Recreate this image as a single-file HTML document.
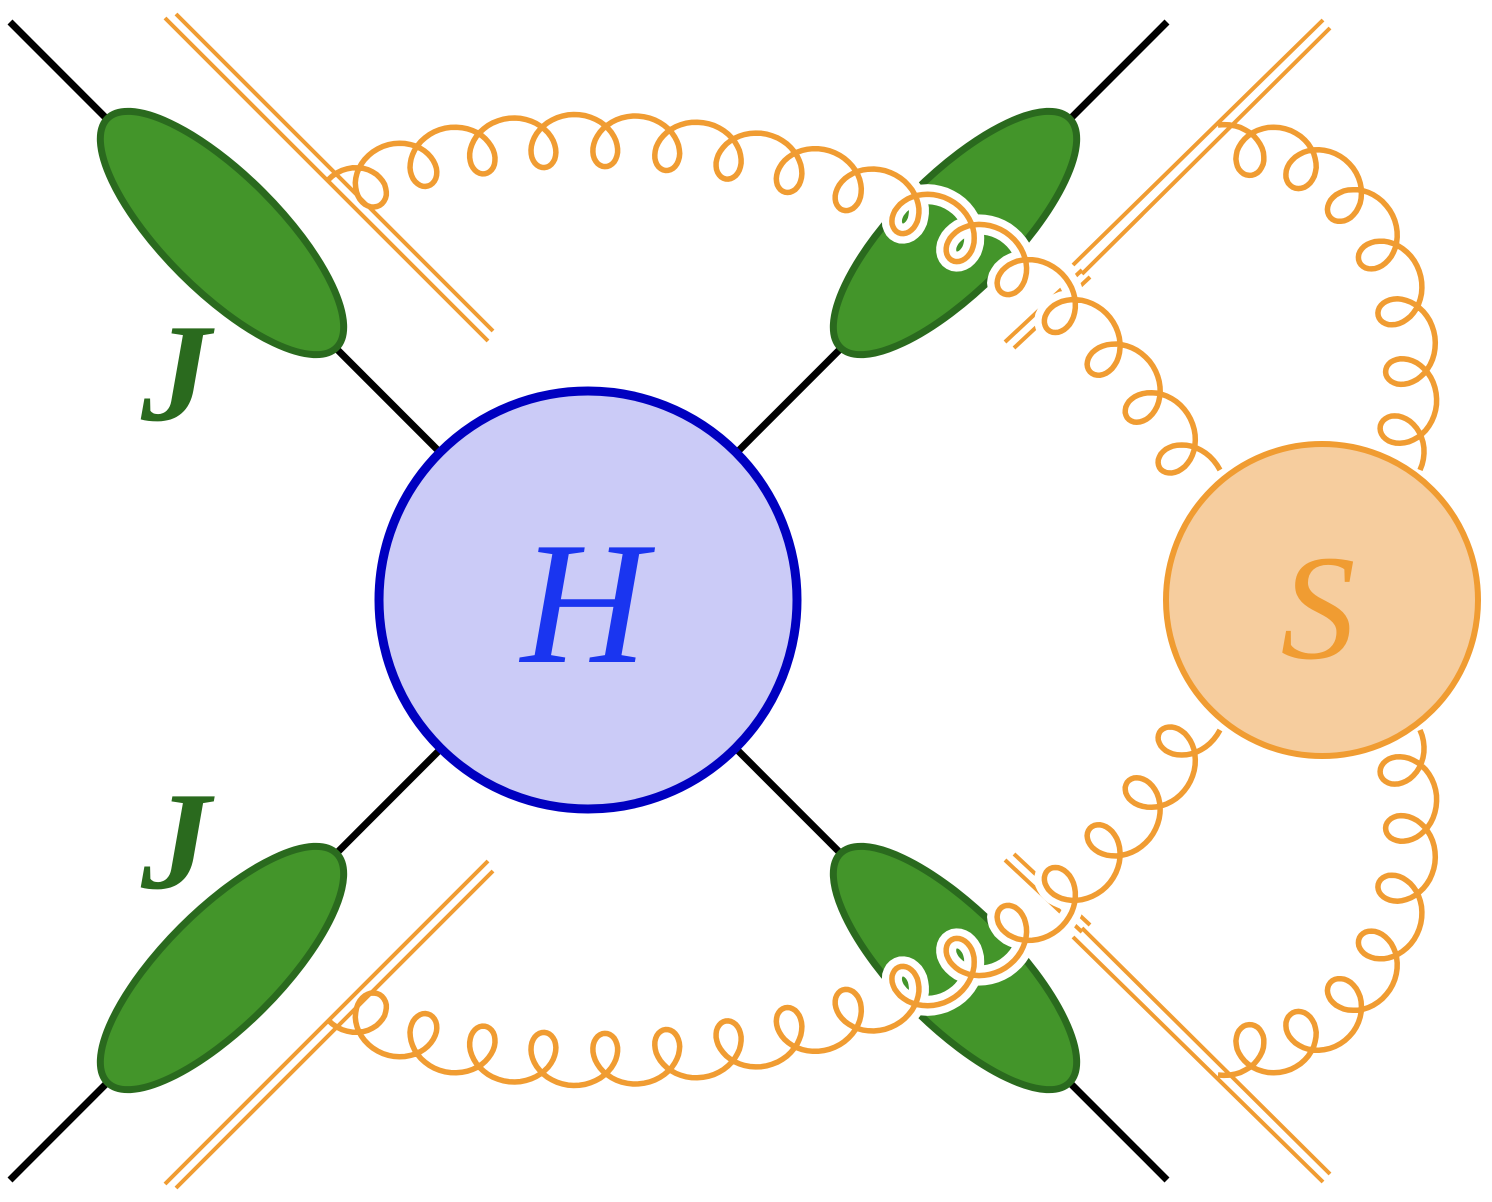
<!DOCTYPE html>
<html><head><meta charset="utf-8"><style>
html,body{margin:0;padding:0;background:#fff;}
svg{display:block;}
</style></head><body>
<svg id="fig" width="1492" height="1202" viewBox="0 0 1492 1202" xmlns="http://www.w3.org/2000/svg">
<g stroke="#000" stroke-width="7">
  <line x1="10" y1="22" x2="1167" y2="1180"/>
  <line x1="1167" y1="22" x2="10" y2="1180"/>
</g>
<g stroke="#f09c32" stroke-width="4" fill="none">
  <path d="M165,18 L488,341 M176,14 L493,331"/>
  <path d="M1073,265 L1323,20 M1082,274 L1330,28 M1005,342 L1082,270 M1014,348 L1090,277"/>
  <path d="M165,1184 L488,861 M176,1188 L493,871"/>
  <path d="M1073,937 L1323,1182 M1082,928 L1330,1174 M1005,860 L1082,932 M1014,854 L1090,925"/>
</g>
<g fill="#43952a" stroke="#2a6a1e" stroke-width="7">
  <ellipse cx="222" cy="233" rx="162" ry="58" transform="rotate(45 222 233)"/>
  <ellipse cx="955" cy="233" rx="162" ry="58" transform="rotate(-45 955 233)"/>
  <ellipse cx="222" cy="968" rx="162" ry="58" transform="rotate(-45 222 968)"/>
  <ellipse cx="955" cy="968" rx="162" ry="58" transform="rotate(45 955 968)"/>
</g>
<g id="gluons"></g>
<circle cx="588" cy="600" r="209" fill="#cbcbf7" stroke="#0000c0" stroke-width="9"/>
<circle cx="1322" cy="600" r="156" fill="#f6cd9e" stroke="#f09c32" stroke-width="6"/>
<text x="584" y="662" text-anchor="middle" font-family="Liberation Serif, serif" font-style="italic" font-size="175" fill="#1a35f0">H</text>
<text x="1318" y="658" text-anchor="middle" font-family="Liberation Serif, serif" font-style="italic" font-size="150" fill="#f09c32">S</text>
<text x="176" y="420" text-anchor="middle" font-family="Liberation Serif, serif" font-style="italic" font-weight="bold" font-size="140" fill="#2a6a1e">J</text>
<text x="176" y="888" text-anchor="middle" font-family="Liberation Serif, serif" font-style="italic" font-weight="bold" font-size="140" fill="#2a6a1e">J</text>
</svg>
<script>
const gluonCurves=[
 [[328,180],[420,80],[1000,40],[1220,470]],
 [[1218,125],[1400,100],[1475,350],[1420,470]]
];
const gluonLoops=[16,7];
function bez(c,t){const u=1-t;return [u*u*u*c[0][0]+3*u*u*t*c[1][0]+3*u*t*t*c[2][0]+t*t*t*c[3][0],u*u*u*c[0][1]+3*u*u*t*c[1][1]+3*u*t*t*c[2][1]+t*t*t*c[3][1]];}
function gluonPath(c,n,flip,f0,f1){
 const M=400,pts=[],len=[0];
 for(let i=0;i<=M;i++){pts.push(bez(c,i/M));if(i>0){len.push(len[i-1]+Math.hypot(pts[i][0]-pts[i-1][0],pts[i][1]-pts[i-1][1]));}}
 const L=len[M];let d='';const S=n*40;let j=0;let first=true;
 for(let k=0;k<=S;k++){
  const s=L*k/S;while(j<M-1&&len[j+1]<s)j++;
  if(k/S<f0||k/S>f1)continue;
  const f=(s-len[j])/((len[j+1]-len[j])||1);
  const x=pts[j][0]+f*(pts[j+1][0]-pts[j][0]),y=pts[j][1]+f*(pts[j+1][1]-pts[j][1]);
  let tx=pts[j+1][0]-pts[j][0],ty=pts[j+1][1]-pts[j][1];const tl=Math.hypot(tx,ty);tx/=tl;ty/=tl;
  const nx=-ty,ny=tx;const ph=2*Math.PI*k/40;
  const At=26,An=26;
  let px=x+At*Math.sin(ph)*tx+An*(1-Math.cos(ph))*nx;
  let py=y+At*Math.sin(ph)*ty+An*(1-Math.cos(ph))*ny;
  if(flip)py=1200-py;
  d+=(first?'M':'L')+px.toFixed(1)+','+py.toFixed(1);first=false;
 }
 return d;
}
const g=document.getElementById('gluons');
const NS='http://www.w3.org/2000/svg';
[false,true].forEach(flip=>{
 gluonCurves.forEach((c,i)=>{
  const d=gluonPath(c,gluonLoops[i],flip,0,1);
  if(i===0){
   const h=document.createElementNS(NS,'path');
   h.setAttribute('d',gluonPath(c,gluonLoops[i],flip,0.5,0.85));h.setAttribute('fill','none');h.setAttribute('stroke','#fff');h.setAttribute('stroke-width','20');
   
   
   g.appendChild(h);
  }
  const p=document.createElementNS(NS,'path');
  p.setAttribute('d',d);p.setAttribute('fill','none');p.setAttribute('stroke','#f09c32');p.setAttribute('stroke-width','5.5');
  
  
  g.appendChild(p);
 });
});
</script>
</body></html>
